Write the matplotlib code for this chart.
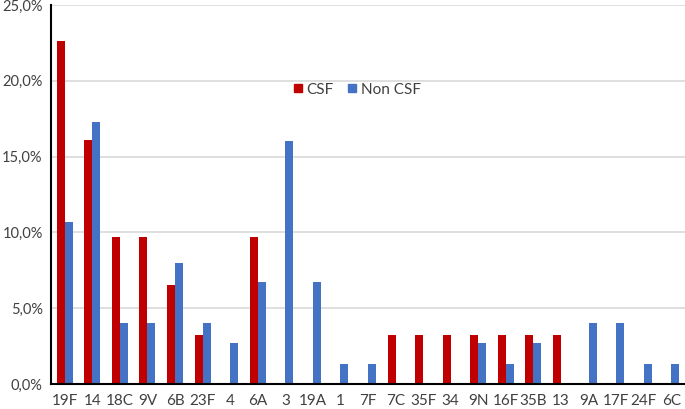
import matplotlib
matplotlib.use("Agg")
import matplotlib.pyplot as plt
import numpy as np
from matplotlib.ticker import FuncFormatter
from matplotlib.lines import Line2D

categories = ["19F", "14", "18C", "9V", "6B", "23F", "4", "6A", "3", "19A", "1", "7F",
              "7C", "35F", "34", "9N", "16F", "35B", "13", "9A", "17F", "24F", "6C"]
csf = [22.6, 16.1, 9.7, 9.7, 6.5, 3.2, 0, 9.7, 0, 0, 0, 0,
       3.2, 3.2, 3.2, 3.2, 3.2, 3.2, 3.2, 0, 0, 0, 0]
non_csf = [10.7, 17.3, 4.0, 4.0, 8.0, 4.0, 2.7, 6.7, 16.0, 6.7, 1.3, 1.3,
           0, 0, 0, 2.7, 1.3, 2.7, 0, 4.0, 4.0, 1.3, 1.3]
yticks = [0, 5, 10, 15, 20, 25]

plt.rcParams['font.family'] = ['Lato', 'DejaVu Sans']

fig = plt.figure(figsize=(6.85, 4.09), dpi=100)
ax = fig.add_axes([51/685, 1 - 384/409, (685-51)/685, (384-5)/409])

x = np.arange(len(categories))
w = 0.29
ax.bar(x - w/2, csf, width=w, color="#C00000", label="CSF", zorder=3)
ax.bar(x + w/2, non_csf, width=w, color="#4472C4", label="Non CSF", zorder=3)

ax.set_xlim(-0.5, len(categories) - 0.5)
ax.set_ylim(0, 25)
ax.set_yticks(yticks)
ax.yaxis.set_major_formatter(FuncFormatter(lambda v, p: f"{v:.1f}%".replace(".", ",")))
ax.set_xticks(x)
ax.set_xticklabels(categories)
ax.tick_params(axis="x", length=0, labelsize=11, colors="#404040", pad=7)
ax.tick_params(axis="y", length=0, labelsize=10.5, colors="#404040", pad=6)

ax.grid(axis="y", color="#D9D9D9", linewidth=1.2, zorder=0)
for s in ["top", "right"]:
    ax.spines[s].set_visible(False)
ax.spines["left"].set_color("black")
ax.spines["left"].set_linewidth(1.5)
ax.spines["bottom"].set_color("black")
ax.spines["bottom"].set_linewidth(1.5)
ax.spines["bottom"].set_zorder(4)

handles = [Line2D([], [], marker="s", linestyle="none", markersize=6, color="#C00000"),
           Line2D([], [], marker="s", linestyle="none", markersize=6, color="#4472C4")]
leg = ax.legend(handles, ["CSF", "Non CSF"], loc="center left", bbox_to_anchor=(0.36, 0.777),
                ncol=2, frameon=False, fontsize=11, handlelength=0.6, handletextpad=0.3,
                columnspacing=0.9, labelcolor="#404040")

fig.savefig("out.png", dpi=100)
